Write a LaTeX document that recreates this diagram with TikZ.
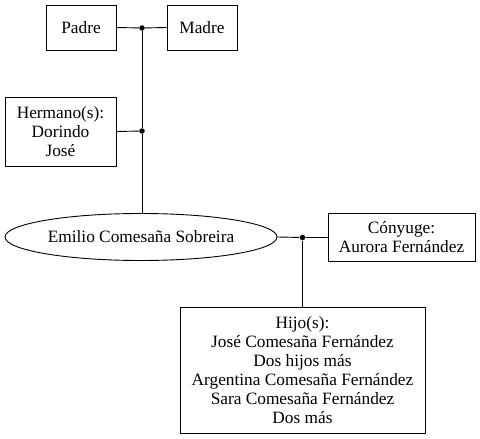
\documentclass[tikz,border=0pt]{standalone}
\usepackage{fontspec}
\setmainfont{Liberation Serif}
\usetikzlibrary{shapes.geometric}
\begin{document}
\begin{tikzpicture}[x=1pt,y=-1pt,
  every node/.style={font=\rmfamily\fontsize{17.3}{19}\selectfont, align=center, inner sep=0pt, line width=0.9pt},
  box/.style={draw, rectangle},
  person/.style={draw, ellipse},
  link/.style={line width=0.9pt},
  dot/.style={circle, fill=black, minimum size=5.5pt, inner sep=0pt}]
\useasboundingbox (0,0) rectangle (480,439);
\node[box, minimum width=70pt, minimum height=45pt] (padre) at (81,27.5) {Padre};
\node[box, minimum width=70pt, minimum height=45pt] (madre) at (202,27.5) {Madre};
\node[box, minimum width=111pt, minimum height=69pt] (hermano) at (60.5,131.5) {Hermano(s):\\Dorindo\\José};
\node[person, minimum width=272pt, minimum height=47pt] (emilio) at (141,237) {Emilio Comesaña Sobreira};
\node[box, minimum width=147pt, minimum height=48pt] (conyuge) at (401.5,237.5) {Cónyuge:\\Aurora Fernández};
\node[box, minimum width=245pt, minimum height=126pt] (hijo) at (302.5,370.5) {Hijo(s):\\José Comesaña Fernández\\Dos hijos más\\Argentina Comesaña Fernández\\Sara Comesaña Fernández\\Dos más};
\node[dot] (j1) at (142,28) {};
\node[dot] (j2) at (142,131) {};
\node[dot] (j3) at (302.5,237.5) {};
\draw[link] (padre.east) -- (j1) -- (madre.west);
\draw[link] (hermano.east) -- (j2);
\draw[link] (j1) -- (j2) -- (j2 |- emilio.north);
\draw[link] (emilio.east) -- (j3) -- (conyuge.west);
\draw[link] (j3) -- (hijo.north);
\end{tikzpicture}
\end{document}
